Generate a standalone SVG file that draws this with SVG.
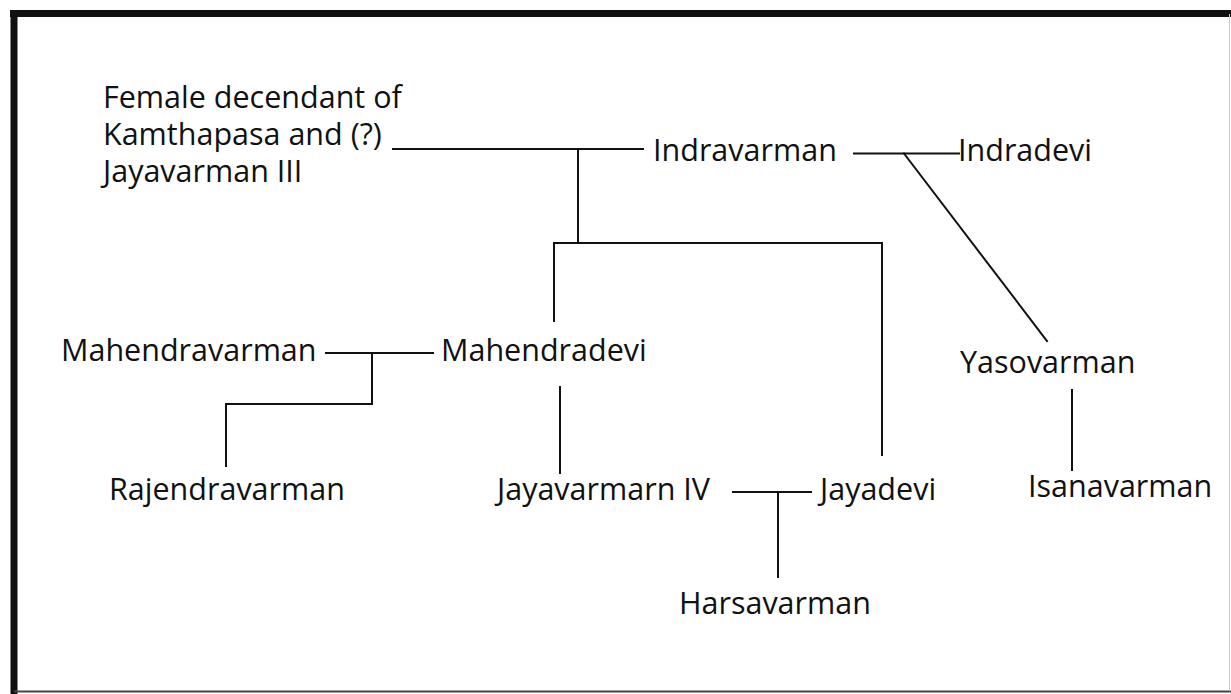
<svg xmlns="http://www.w3.org/2000/svg" width="1231" height="694" viewBox="0 0 1231 694">
<style>
text{font-family:"Open Sans","Liberation Sans",sans-serif;font-size:30.5px;fill:#111}
.c line{stroke:#111;stroke-width:2;stroke-linecap:square}
</style>
<rect x="0" y="0" width="1231" height="694" fill="#fff"/>
<g id="frame">
<line x1="10" y1="13.5" x2="1231" y2="13.5" stroke="#111" stroke-width="7"/>
<line x1="14" y1="10" x2="14" y2="694" stroke="#111" stroke-width="7"/>
<line x1="14" y1="691.5" x2="1231" y2="691.5" stroke="#444" stroke-width="2"/>
<line x1="1229.5" y1="14" x2="1229.5" y2="691" stroke="#ccc" stroke-width="1"/>
</g>
<g class="c" id="connectors">
<line x1="393" y1="149" x2="643" y2="149"/>
<line x1="578" y1="149" x2="578" y2="243"/>
<line x1="554" y1="243" x2="882" y2="243"/>
<line x1="554" y1="243" x2="554" y2="321"/>
<line x1="882" y1="243" x2="882" y2="455"/>
<line x1="854" y1="153.5" x2="959" y2="153.5"/>
<line x1="904" y1="153.5" x2="1047" y2="341"/>
<line x1="1072" y1="390" x2="1072" y2="470"/>
<line x1="326" y1="353" x2="433" y2="353"/>
<line x1="372" y1="353" x2="372" y2="404"/>
<line x1="226" y1="404" x2="372" y2="404"/>
<line x1="226" y1="404" x2="226" y2="466"/>
<line x1="560" y1="387" x2="560" y2="473"/>
<line x1="733" y1="492" x2="811" y2="492"/>
<line x1="778" y1="492" x2="778" y2="577"/>
</g>
<g id="female"><text x="103" y="108">Female decendant of</text><text x="103" y="145">Kamthapasa and (?)</text><text x="103" y="182">Jayavarman III</text></g>
<g id="indravarman"><text x="653" y="161">Indravarman</text></g>
<g id="indradevi"><text x="958" y="161">Indradevi</text></g>
<g id="mahendravarman"><text x="61" y="361">Mahendravarman</text></g>
<g id="mahendradevi"><text x="441" y="361">Mahendradevi</text></g>
<g id="yasovarman"><text x="960" y="373">Yasovarman</text></g>
<g id="rajendravarman"><text x="109" y="500">Rajendravarman</text></g>
<g id="jayavarman4"><text x="497" y="500">Jayavarmarn IV</text></g>
<g id="jayadevi"><text x="820" y="500">Jayadevi</text></g>
<g id="isanavarman"><text x="1028" y="497">Isanavarman</text></g>
<g id="harsavarman"><text x="679" y="614">Harsavarman</text></g>
</svg>
